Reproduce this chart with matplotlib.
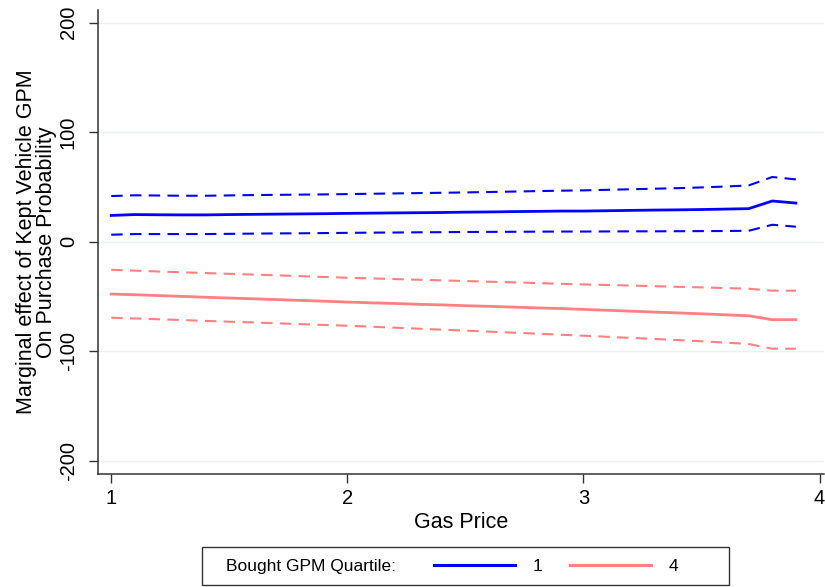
import matplotlib
matplotlib.use("Agg")
import matplotlib.pyplot as plt
from matplotlib.lines import Line2D
from matplotlib.offsetbox import DrawingArea

plt.rcParams['font.family'] = ['Liberation Sans', 'DejaVu Sans']

gas_price = [1.0, 1.1, 1.2, 1.3, 1.4, 1.5, 1.6, 1.7, 1.8, 1.9,
             2.0, 2.1, 2.2, 2.3, 2.4, 2.5, 2.6, 2.7, 2.8, 2.9,
             3.0, 3.1, 3.2, 3.3, 3.4, 3.5, 3.6, 3.7, 3.8, 3.9]

q1_est = [24.0, 24.8, 24.6, 24.5, 24.5, 24.8, 25.0, 25.2, 25.4, 25.6,
          25.9, 26.1, 26.3, 26.5, 26.7, 27.0, 27.2, 27.5, 27.7, 28.0,
          28.0, 28.3, 28.6, 28.9, 29.1, 29.4, 29.8, 30.2, 37.2, 35.3]
q1_hi = [41.7, 42.4, 42.2, 42.0, 42.0, 42.3, 42.6, 42.8, 43.0, 43.2,
         43.5, 43.8, 44.1, 44.4, 44.7, 45.0, 45.4, 45.8, 46.2, 46.6,
         46.9, 47.4, 47.9, 48.4, 48.9, 49.6, 50.4, 51.4, 59.1, 56.9]
q1_lo = [6.4, 7.0, 7.0, 7.0, 7.0, 7.2, 7.4, 7.6, 7.7, 7.9,
         8.1, 8.3, 8.4, 8.6, 8.7, 8.9, 9.0, 9.1, 9.2, 9.3,
         9.3, 9.4, 9.5, 9.5, 9.6, 9.7, 9.8, 10.0, 15.5, 13.7]

q4_est = [-47.8, -48.4, -49.2, -49.9, -50.7, -51.4, -52.1, -52.8, -53.6, -54.3,
          -55.1, -55.8, -56.4, -57.1, -57.7, -58.4, -59.0, -59.7, -60.4, -61.0,
          -61.8, -62.6, -63.4, -64.2, -65.0, -65.8, -66.7, -67.6, -71.2, -71.2]
q4_hi = [-25.6, -26.4, -27.2, -27.9, -28.6, -29.3, -30.0, -30.7, -31.4, -32.2,
         -32.9, -33.5, -34.1, -34.7, -35.3, -35.9, -36.5, -37.1, -37.7, -38.4,
         -39.0, -39.5, -40.0, -40.6, -41.2, -41.7, -42.3, -42.9, -44.7, -44.7]
q4_lo = [-69.4, -70.1, -70.8, -71.5, -72.3, -73.0, -73.7, -74.5, -75.2, -76.0,
         -76.7, -77.6, -78.5, -79.4, -80.3, -81.2, -82.1, -83.0, -83.9, -84.9,
         -85.8, -86.8, -87.8, -88.8, -89.8, -90.9, -92.1, -93.4, -97.7, -97.7]

x_ticks = [1, 2, 3, 4]
y_ticks = [-200, -100, 0, 100, 200]
legend_title = "Bought GPM Quartile:"
legend_labels = ["1", "4"]

blue = "#0000ff"
red = "#ff8080"

fig = plt.figure(figsize=(8.25, 5.87), dpi=100)
W, H = 825, 587
ax = fig.add_axes([98 / W, 1 - 474 / H, (824 - 98) / W, (474 - 10) / H])

dash = (0, (5.5, 3.5))
ax.plot(gas_price, q1_hi, color=blue, lw=1.5, ls=dash)
ax.plot(gas_price, q1_lo, color=blue, lw=1.5, ls=dash)
ax.plot(gas_price, q1_est, color=blue, lw=2.0)
ax.plot(gas_price, q4_hi, color=red, lw=1.5, ls=dash)
ax.plot(gas_price, q4_lo, color=red, lw=1.5, ls=dash)
ax.plot(gas_price, q4_est, color=red, lw=2.0)

ax.set_xlim(0.944, 4.019)
ax.set_ylim(-212.1, 211.6)
ax.set_xticks(x_ticks)
ax.set_yticks(y_ticks)
ax.set_yticklabels([str(v) for v in y_ticks], rotation=90, va='center')
ax.tick_params(axis='both', labelsize=14.5, length=6.5, width=1.0, color='#333333')
ax.tick_params(axis='y', pad=8)
ax.tick_params(axis='x', pad=4.5)
ax.yaxis.grid(True, color='#eaf1f3', lw=1.0)
ax.set_axisbelow(True)
for s in ['top', 'right']:
    ax.spines[s].set_visible(False)
for s in ['left', 'bottom']:
    ax.spines[s].set_color('#333333')
    ax.spines[s].set_linewidth(1.1)

ax.set_xlabel("Gas Price", fontsize=15.5, labelpad=3)
ax.set_ylabel("Marginal effect of Kept Vehicle GPM\nOn Purchase Probability",
              fontsize=15.5, linespacing=0.95, labelpad=1.0)

handles = [Line2D([], [], color=blue, lw=2.2), Line2D([], [], color=red, lw=2.2)]
leg = fig.legend(handles, legend_labels, title=legend_title, ncol=2,
                 loc='center', bbox_to_anchor=(465.5 / W, 1 - 566 / H),
                 fontsize=12.5, title_fontsize=12.5, frameon=True, fancybox=False,
                 edgecolor='black', handlelength=4.67, handletextpad=1.0,
                 columnspacing=1.6, borderpad=0.65, borderaxespad=0)
leg.get_frame().set_linewidth(1.0)
# put title on the same row as entries, with Stata-like spacing
c = leg.get_children()[0]
title_box = c.get_children()[0]
hpack = c.get_children()[1]
cols = hpack.get_children()
c._children = [hpack]
hpack._children = [DrawingArea(9, 1), title_box, DrawingArea(27.4, 1),
                   cols[0], DrawingArea(20, 1), cols[1], DrawingArea(28, 1)]
hpack.sep = 0

fig.savefig("out.png", dpi=100)
